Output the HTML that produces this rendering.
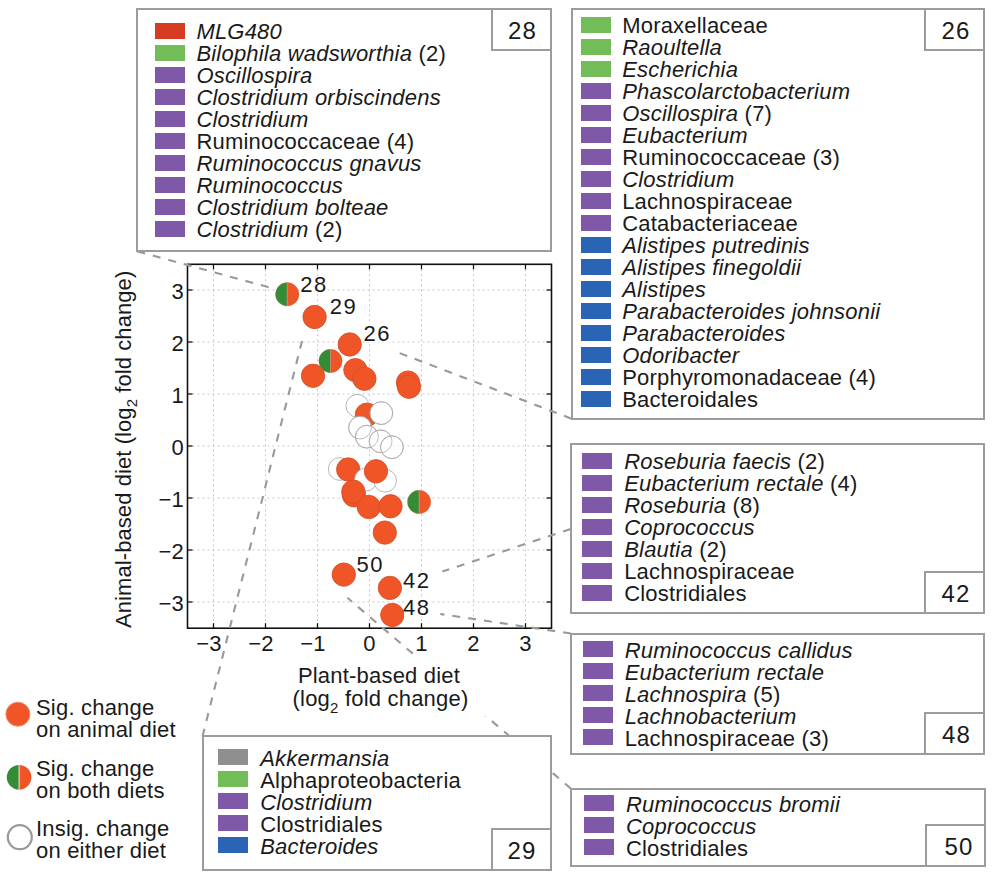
<!DOCTYPE html>
<html><head><meta charset="utf-8"><style>
html,body{margin:0;padding:0;background:#fff;}
body{width:995px;height:879px;position:relative;overflow:hidden;font-family:"Liberation Sans",sans-serif;color:#1a1a1a;}
.t{position:absolute;white-space:nowrap;font-size:22px;line-height:22px;letter-spacing:0.2px;}
.box{position:absolute;box-sizing:border-box;border:2px solid #9c9c9c;background:#fff;}
.sw{position:absolute;width:30px;height:16px;}
.num{position:absolute;box-sizing:border-box;border:2px solid #9c9c9c;background:#fff;font-size:24px;text-align:center;letter-spacing:1.2px;text-indent:1.2px;}
</style></head><body>

<svg width="995" height="879" style="position:absolute;left:0;top:0">
<g stroke="#c8c8c8" stroke-width="1" stroke-dasharray="2 3"><line x1="213.5" y1="264.3" x2="213.5" y2="628.2"/><line x1="187.5" y1="602" x2="551.5" y2="602"/><line x1="265.5" y1="264.3" x2="265.5" y2="628.2"/><line x1="187.5" y1="550" x2="551.5" y2="550"/><line x1="317.5" y1="264.3" x2="317.5" y2="628.2"/><line x1="187.5" y1="498" x2="551.5" y2="498"/><line x1="369.5" y1="264.3" x2="369.5" y2="628.2"/><line x1="187.5" y1="446" x2="551.5" y2="446"/><line x1="421.5" y1="264.3" x2="421.5" y2="628.2"/><line x1="187.5" y1="394" x2="551.5" y2="394"/><line x1="473.5" y1="264.3" x2="473.5" y2="628.2"/><line x1="187.5" y1="342" x2="551.5" y2="342"/><line x1="525.5" y1="264.3" x2="525.5" y2="628.2"/><line x1="187.5" y1="290" x2="551.5" y2="290"/></g>
<path d="M287.2,282.6 A11.7,11.7 0 0 0 287.2,306.0 Z" fill="#358c36"/><path d="M287.2,282.6 A11.7,11.7 0 0 1 287.2,306.0 Z" fill="#f05528"/><line x1="287.2" y1="282.6" x2="287.2" y2="306.0" stroke="#b8906a" stroke-width="0.9"/><circle cx="287.2" cy="294.3" r="11.7" fill="none" stroke="#c06040" stroke-width="0.6" opacity="0.6"/>
<circle cx="314.6" cy="317" r="11.7" fill="#f05528" stroke="#d44c2a" stroke-width="0.8"/>
<circle cx="349.7" cy="344.5" r="11.7" fill="#f05528" stroke="#d44c2a" stroke-width="0.8"/>
<path d="M330.5,349.3 A11.7,11.7 0 0 0 330.5,372.7 Z" fill="#358c36"/><path d="M330.5,349.3 A11.7,11.7 0 0 1 330.5,372.7 Z" fill="#f05528"/><line x1="330.5" y1="349.3" x2="330.5" y2="372.7" stroke="#b8906a" stroke-width="0.9"/><circle cx="330.5" cy="361" r="11.7" fill="none" stroke="#c06040" stroke-width="0.6" opacity="0.6"/>
<circle cx="313" cy="375.8" r="11.7" fill="#f05528" stroke="#d44c2a" stroke-width="0.8"/>
<circle cx="355.4" cy="370.1" r="11.7" fill="#f05528" stroke="#d44c2a" stroke-width="0.8"/>
<circle cx="364.4" cy="378.7" r="11.7" fill="#f05528" stroke="#d44c2a" stroke-width="0.8"/>
<circle cx="408" cy="382.6" r="11.7" fill="#f05528" stroke="#d44c2a" stroke-width="0.8"/>
<circle cx="409" cy="386.7" r="11.7" fill="#f05528" stroke="#d44c2a" stroke-width="0.8"/>
<circle cx="357.3" cy="405.8" r="11.399999999999999" fill="#fff" stroke="#a4a4a4" stroke-width="0.8"/>
<circle cx="366.9" cy="414.7" r="11.7" fill="#f05528" stroke="#d44c2a" stroke-width="0.8"/>
<circle cx="381.3" cy="413.1" r="11.399999999999999" fill="#fff" stroke="#a4a4a4" stroke-width="0.8"/>
<circle cx="360" cy="427.6" r="11.399999999999999" fill="#fff" stroke="#a4a4a4" stroke-width="0.8"/>
<circle cx="366.9" cy="436.7" r="11.399999999999999" fill="rgba(255,255,255,0.7)" stroke="#a4a4a4" stroke-width="0.8"/>
<circle cx="380.6" cy="441.3" r="11.399999999999999" fill="rgba(255,255,255,0.7)" stroke="#a4a4a4" stroke-width="0.8"/>
<circle cx="391.9" cy="447.2" r="11.399999999999999" fill="rgba(255,255,255,0.7)" stroke="#a4a4a4" stroke-width="0.8"/>
<circle cx="381.3" cy="413.1" r="11.399999999999999" fill="none" stroke="#a4a4a4" stroke-width="0.7" opacity="0.8"/>
<circle cx="360" cy="427.6" r="11.399999999999999" fill="none" stroke="#a4a4a4" stroke-width="0.7" opacity="0.8"/>
<circle cx="366.9" cy="436.7" r="11.399999999999999" fill="none" stroke="#a4a4a4" stroke-width="0.7" opacity="0.8"/>
<circle cx="380.6" cy="441.3" r="11.399999999999999" fill="none" stroke="#a4a4a4" stroke-width="0.7" opacity="0.8"/>
<circle cx="391.9" cy="447.2" r="11.399999999999999" fill="none" stroke="#a4a4a4" stroke-width="0.7" opacity="0.8"/>
<circle cx="339.8" cy="469" r="11.399999999999999" fill="rgba(255,255,255,0.7)" stroke="#a4a4a4" stroke-width="0.8"/>
<circle cx="348.2" cy="469.5" r="11.7" fill="#f05528" stroke="#d44c2a" stroke-width="0.8"/>
<circle cx="366" cy="479.5" r="11.399999999999999" fill="#fff" stroke="#a4a4a4" stroke-width="0.8"/>
<circle cx="385.1" cy="480.7" r="11.399999999999999" fill="rgba(255,255,255,0.7)" stroke="#a4a4a4" stroke-width="0.8"/>
<circle cx="376" cy="471.3" r="11.7" fill="#f05528" stroke="#d44c2a" stroke-width="0.8"/>
<circle cx="354" cy="495.3" r="11.7" fill="#f05528" stroke="#d44c2a" stroke-width="0.8"/>
<circle cx="353.3" cy="491.7" r="11.7" fill="#f05528" stroke="#d44c2a" stroke-width="0.8"/>
<circle cx="368.8" cy="507" r="11.7" fill="#f05528" stroke="#d44c2a" stroke-width="0.8"/>
<circle cx="390.5" cy="506.3" r="11.7" fill="#f05528" stroke="#d44c2a" stroke-width="0.8"/>
<path d="M419.1,490.2 A11.7,11.7 0 0 0 419.1,513.6 Z" fill="#358c36"/><path d="M419.1,490.2 A11.7,11.7 0 0 1 419.1,513.6 Z" fill="#f05528"/><line x1="419.1" y1="490.2" x2="419.1" y2="513.6" stroke="#b8906a" stroke-width="0.9"/><circle cx="419.1" cy="501.9" r="11.7" fill="none" stroke="#c06040" stroke-width="0.6" opacity="0.6"/>
<circle cx="384.8" cy="532.6" r="11.7" fill="#f05528" stroke="#d44c2a" stroke-width="0.8"/>
<circle cx="343.8" cy="574.6" r="11.7" fill="#f05528" stroke="#d44c2a" stroke-width="0.8"/>
<circle cx="389.9" cy="587.9" r="11.7" fill="#f05528" stroke="#d44c2a" stroke-width="0.8"/>
<circle cx="392.3" cy="615" r="11.7" fill="#f05528" stroke="#d44c2a" stroke-width="0.8"/>
<rect x="187.5" y="264.3" width="364.0" height="363.90000000000003" fill="none" stroke="#111" stroke-width="1.6"/>
<g stroke="#111" stroke-width="1.3"><line x1="213.5" y1="628.2" x2="213.5" y2="623.2"/><line x1="213.5" y1="264.3" x2="213.5" y2="269.3"/><line x1="187.5" y1="602" x2="192.5" y2="602"/><line x1="551.5" y1="602" x2="546.5" y2="602"/><line x1="265.5" y1="628.2" x2="265.5" y2="623.2"/><line x1="265.5" y1="264.3" x2="265.5" y2="269.3"/><line x1="187.5" y1="550" x2="192.5" y2="550"/><line x1="551.5" y1="550" x2="546.5" y2="550"/><line x1="317.5" y1="628.2" x2="317.5" y2="623.2"/><line x1="317.5" y1="264.3" x2="317.5" y2="269.3"/><line x1="187.5" y1="498" x2="192.5" y2="498"/><line x1="551.5" y1="498" x2="546.5" y2="498"/><line x1="369.5" y1="628.2" x2="369.5" y2="623.2"/><line x1="369.5" y1="264.3" x2="369.5" y2="269.3"/><line x1="187.5" y1="446" x2="192.5" y2="446"/><line x1="551.5" y1="446" x2="546.5" y2="446"/><line x1="421.5" y1="628.2" x2="421.5" y2="623.2"/><line x1="421.5" y1="264.3" x2="421.5" y2="269.3"/><line x1="187.5" y1="394" x2="192.5" y2="394"/><line x1="551.5" y1="394" x2="546.5" y2="394"/><line x1="473.5" y1="628.2" x2="473.5" y2="623.2"/><line x1="473.5" y1="264.3" x2="473.5" y2="269.3"/><line x1="187.5" y1="342" x2="192.5" y2="342"/><line x1="551.5" y1="342" x2="546.5" y2="342"/><line x1="525.5" y1="628.2" x2="525.5" y2="623.2"/><line x1="525.5" y1="264.3" x2="525.5" y2="269.3"/><line x1="187.5" y1="290" x2="192.5" y2="290"/><line x1="551.5" y1="290" x2="546.5" y2="290"/></g>
<g stroke="#999" stroke-width="2.1" stroke-dasharray="8 8" fill="none"><line x1="137.4" y1="251.4" x2="268.7" y2="287.2"/><line x1="571.6" y1="418.7" x2="398" y2="352.5"/><line x1="570.7" y1="529" x2="442.4" y2="571.5"/><line x1="571" y1="633.5" x2="440.3" y2="614"/><line x1="202.5" y1="736.4" x2="302" y2="341"/><line x1="571" y1="788.7" x2="347.4" y2="597.8"/></g>
</svg>
<div class="box" style="left:136.4px;top:8px;width:415.6px;height:244.4px"></div>
<div class="num" style="left:491px;top:8px;width:61px;height:43px;line-height:40.5px"><span style="position:relative;left:0.5px;top:0.5px">28</span></div>
<div class="sw" style="left:155px;top:22.5px;background:#d73c22"></div>
<div class="t" style="left:196.39999999999998px;top:21.0px"><i>MLG480</i></div>
<div class="sw" style="left:155px;top:44.5px;background:#72bd58"></div>
<div class="t" style="left:196.39999999999998px;top:43.0px"><i>Bilophila wadsworthia</i> (2)</div>
<div class="sw" style="left:155px;top:66.5px;background:#8058a8"></div>
<div class="t" style="left:196.39999999999998px;top:65.0px"><i>Oscillospira</i></div>
<div class="sw" style="left:155px;top:88.5px;background:#8058a8"></div>
<div class="t" style="left:196.39999999999998px;top:87.0px"><i>Clostridium orbiscindens</i></div>
<div class="sw" style="left:155px;top:110.5px;background:#8058a8"></div>
<div class="t" style="left:196.39999999999998px;top:109.0px"><i>Clostridium</i></div>
<div class="sw" style="left:155px;top:132.5px;background:#8058a8"></div>
<div class="t" style="left:196.39999999999998px;top:131.0px">Ruminococcaceae (4)</div>
<div class="sw" style="left:155px;top:154.5px;background:#8058a8"></div>
<div class="t" style="left:196.39999999999998px;top:153.0px"><i>Ruminococcus gnavus</i></div>
<div class="sw" style="left:155px;top:176.5px;background:#8058a8"></div>
<div class="t" style="left:196.39999999999998px;top:175.0px"><i>Ruminococcus</i></div>
<div class="sw" style="left:155px;top:198.5px;background:#8058a8"></div>
<div class="t" style="left:196.39999999999998px;top:197.0px"><i>Clostridium bolteae</i></div>
<div class="sw" style="left:155px;top:220.5px;background:#8058a8"></div>
<div class="t" style="left:196.39999999999998px;top:219.0px"><i>Clostridium</i> (2)</div>
<div class="box" style="left:570.6px;top:8px;width:414.4px;height:411.7px"></div>
<div class="num" style="left:924px;top:8px;width:61px;height:43px;line-height:40.5px"><span style="position:relative;left:1px;top:1px">26</span></div>
<div class="sw" style="left:581px;top:17px;background:#72bd58"></div>
<div class="t" style="left:622.2px;top:14.5px">Moraxellaceae</div>
<div class="sw" style="left:581px;top:39px;background:#72bd58"></div>
<div class="t" style="left:622.2px;top:36.5px"><i>Raoultella</i></div>
<div class="sw" style="left:581px;top:61px;background:#72bd58"></div>
<div class="t" style="left:622.2px;top:58.5px"><i>Escherichia</i></div>
<div class="sw" style="left:581px;top:83px;background:#8058a8"></div>
<div class="t" style="left:622.2px;top:80.5px"><i>Phascolarctobacterium</i></div>
<div class="sw" style="left:581px;top:105px;background:#8058a8"></div>
<div class="t" style="left:622.2px;top:102.5px"><i>Oscillospira</i> (7)</div>
<div class="sw" style="left:581px;top:127px;background:#8058a8"></div>
<div class="t" style="left:622.2px;top:124.5px"><i>Eubacterium</i></div>
<div class="sw" style="left:581px;top:149px;background:#8058a8"></div>
<div class="t" style="left:622.2px;top:146.5px">Ruminococcaceae (3)</div>
<div class="sw" style="left:581px;top:171px;background:#8058a8"></div>
<div class="t" style="left:622.2px;top:168.5px"><i>Clostridium</i></div>
<div class="sw" style="left:581px;top:193px;background:#8058a8"></div>
<div class="t" style="left:622.2px;top:190.5px">Lachnospiraceae</div>
<div class="sw" style="left:581px;top:215px;background:#8058a8"></div>
<div class="t" style="left:622.2px;top:212.5px">Catabacteriaceae</div>
<div class="sw" style="left:581px;top:237px;background:#2a64b4"></div>
<div class="t" style="left:622.2px;top:234.5px"><i>Alistipes putredinis</i></div>
<div class="sw" style="left:581px;top:259px;background:#2a64b4"></div>
<div class="t" style="left:622.2px;top:256.5px"><i>Alistipes finegoldii</i></div>
<div class="sw" style="left:581px;top:281px;background:#2a64b4"></div>
<div class="t" style="left:622.2px;top:278.5px"><i>Alistipes</i></div>
<div class="sw" style="left:581px;top:303px;background:#2a64b4"></div>
<div class="t" style="left:622.2px;top:300.5px"><i>Parabacteroides johnsonii</i></div>
<div class="sw" style="left:581px;top:325px;background:#2a64b4"></div>
<div class="t" style="left:622.2px;top:322.5px"><i>Parabacteroides</i></div>
<div class="sw" style="left:581px;top:347px;background:#2a64b4"></div>
<div class="t" style="left:622.2px;top:344.5px"><i>Odoribacter</i></div>
<div class="sw" style="left:581px;top:369px;background:#2a64b4"></div>
<div class="t" style="left:622.2px;top:366.5px">Porphyromonadaceae (4)</div>
<div class="sw" style="left:581px;top:391px;background:#2a64b4"></div>
<div class="t" style="left:622.2px;top:388.5px">Bacteroidales</div>
<div class="box" style="left:569.7px;top:442.7px;width:415.29999999999995px;height:171.50000000000006px"></div>
<div class="num" style="left:924px;top:571.2px;width:61px;height:43px;line-height:40.5px"><span style="position:relative;left:1px;top:0.5px">42</span></div>
<div class="sw" style="left:582px;top:453px;background:#8058a8"></div>
<div class="t" style="left:624.2px;top:450.5px"><i>Roseburia faecis</i> (2)</div>
<div class="sw" style="left:582px;top:475px;background:#8058a8"></div>
<div class="t" style="left:624.2px;top:472.5px"><i>Eubacterium rectale</i> (4)</div>
<div class="sw" style="left:582px;top:497px;background:#8058a8"></div>
<div class="t" style="left:624.2px;top:494.5px"><i>Roseburia</i> (8)</div>
<div class="sw" style="left:582px;top:519px;background:#8058a8"></div>
<div class="t" style="left:624.2px;top:516.5px"><i>Coprococcus</i></div>
<div class="sw" style="left:582px;top:541px;background:#8058a8"></div>
<div class="t" style="left:624.2px;top:538.5px"><i>Blautia</i> (2)</div>
<div class="sw" style="left:582px;top:563px;background:#8058a8"></div>
<div class="t" style="left:624.2px;top:560.5px">Lachnospiraceae</div>
<div class="sw" style="left:582px;top:585px;background:#8058a8"></div>
<div class="t" style="left:624.2px;top:582.5px">Clostridiales</div>
<div class="box" style="left:570px;top:632.5px;width:415px;height:122.5px"></div>
<div class="num" style="left:924px;top:712px;width:61px;height:43px;line-height:40.5px"><span style="position:relative;left:1.5px;top:0.5px">48</span></div>
<div class="sw" style="left:583px;top:641.1px;background:#8058a8"></div>
<div class="t" style="left:624.7px;top:639.6px"><i>Ruminococcus callidus</i></div>
<div class="sw" style="left:583px;top:663.1px;background:#8058a8"></div>
<div class="t" style="left:624.7px;top:661.6px"><i>Eubacterium rectale</i></div>
<div class="sw" style="left:583px;top:685.1px;background:#8058a8"></div>
<div class="t" style="left:624.7px;top:683.6px"><i>Lachnospira</i> (5)</div>
<div class="sw" style="left:583px;top:707.1px;background:#8058a8"></div>
<div class="t" style="left:624.7px;top:705.6px"><i>Lachnobacterium</i></div>
<div class="sw" style="left:583px;top:729.1px;background:#8058a8"></div>
<div class="t" style="left:624.7px;top:727.6px">Lachnospiraceae (3)</div>
<div class="box" style="left:570px;top:787.7px;width:416px;height:79.29999999999995px"></div>
<div class="num" style="left:925px;top:824px;width:61px;height:43px;line-height:40.5px"><span style="position:relative;left:3px;top:0.5px">50</span></div>
<div class="sw" style="left:584px;top:795px;background:#8058a8"></div>
<div class="t" style="left:625.9000000000001px;top:793.5px"><i>Ruminococcus bromii</i></div>
<div class="sw" style="left:584px;top:817px;background:#8058a8"></div>
<div class="t" style="left:625.9000000000001px;top:815.5px"><i>Coprococcus</i></div>
<div class="sw" style="left:584px;top:839px;background:#8058a8"></div>
<div class="t" style="left:625.9000000000001px;top:837.5px">Clostridiales</div>
<div class="box" style="left:201.5px;top:735.4px;width:350.5px;height:135.30000000000007px"></div>
<div class="num" style="left:491px;top:827.7px;width:61px;height:43px;line-height:40.5px"><span style="position:relative;left:0px;top:1.5px">29</span></div>
<div class="sw" style="left:218px;top:749.2px;background:#8f8f8f"></div>
<div class="t" style="left:260.2px;top:747.7px"><i>Akkermansia</i></div>
<div class="sw" style="left:218px;top:771.2px;background:#72bd58"></div>
<div class="t" style="left:260.2px;top:769.7px">Alphaproteobacteria</div>
<div class="sw" style="left:218px;top:793.2px;background:#8058a8"></div>
<div class="t" style="left:260.2px;top:791.7px"><i>Clostridium</i></div>
<div class="sw" style="left:218px;top:815.2px;background:#8058a8"></div>
<div class="t" style="left:260.2px;top:813.7px">Clostridiales</div>
<div class="sw" style="left:218px;top:837.2px;background:#2a64b4"></div>
<div class="t" style="left:260.2px;top:835.7px"><i>Bacteroides</i></div>
<div style="position:absolute;left:301.4px;top:276px;width:25px;height:17px;background:#fff"></div>
<div class="t" style="left:300.29999999999995px;top:273.7px;letter-spacing:1.5px">28</div>
<div style="position:absolute;left:330.9px;top:298.5px;width:25px;height:17px;background:#fff"></div>
<div class="t" style="left:329.79999999999995px;top:296.2px;letter-spacing:1.5px">29</div>
<div style="position:absolute;left:364.6px;top:325.4px;width:25px;height:17px;background:#fff"></div>
<div class="t" style="left:363.5px;top:323.09999999999997px;letter-spacing:1.5px">26</div>
<div style="position:absolute;left:357.7px;top:556.4px;width:25px;height:17px;background:#fff"></div>
<div class="t" style="left:356.59999999999997px;top:554.1px;letter-spacing:1.5px">50</div>
<div style="position:absolute;left:404.2px;top:572.1px;width:25px;height:17px;background:#fff"></div>
<div class="t" style="left:403.09999999999997px;top:569.8000000000001px;letter-spacing:1.5px">42</div>
<div style="position:absolute;left:404.2px;top:599.3px;width:25px;height:17px;background:#fff"></div>
<div class="t" style="left:403.09999999999997px;top:597.0px;letter-spacing:1.5px">48</div>
<div class="t" style="left:179.0px;width:60px;text-align:center;top:633.2px;font-size:22px">−3</div>
<div class="t" style="left:120px;width:64px;text-align:right;top:593.4px;font-size:22px">−3</div>
<div class="t" style="left:231.0px;width:60px;text-align:center;top:633.2px;font-size:22px">−2</div>
<div class="t" style="left:120px;width:64px;text-align:right;top:541.4px;font-size:22px">−2</div>
<div class="t" style="left:283.0px;width:60px;text-align:center;top:633.2px;font-size:22px">−1</div>
<div class="t" style="left:120px;width:64px;text-align:right;top:489.4px;font-size:22px">−1</div>
<div class="t" style="left:339.5px;width:60px;text-align:center;top:633.2px;font-size:22px">0</div>
<div class="t" style="left:120px;width:64px;text-align:right;top:437.4px;font-size:22px">0</div>
<div class="t" style="left:391.5px;width:60px;text-align:center;top:633.2px;font-size:22px">1</div>
<div class="t" style="left:120px;width:64px;text-align:right;top:385.4px;font-size:22px">1</div>
<div class="t" style="left:443.5px;width:60px;text-align:center;top:633.2px;font-size:22px">2</div>
<div class="t" style="left:120px;width:64px;text-align:right;top:333.4px;font-size:22px">2</div>
<div class="t" style="left:495.5px;width:60px;text-align:center;top:633.2px;font-size:22px">3</div>
<div class="t" style="left:120px;width:64px;text-align:right;top:281.4px;font-size:22px">3</div>
<div style="position:absolute;left:292px;top:658px;width:200px;height:58px;background:#fff"></div><div class="t" style="left:279px;top:663.5px;width:200px;text-align:center;line-height:23.8px">Plant-based diet<br><span style="position:relative;left:1.5px">(log<sub style="font-size:15px;line-height:0;vertical-align:-7px">2</sub> fold change)</span></div>
<div class="t" style="left:131.8px;top:627.6px;letter-spacing:0.08px;transform-origin:0 0;transform:rotate(-90deg);"><div style="position:relative;left:0;top:-18.6px">Animal-based diet (log<sub style="font-size:15px;line-height:0;vertical-align:-6px">2</sub> fold change)</div></div>
<svg width="60" height="879" style="position:absolute;left:0;top:0">
<circle cx="17.9" cy="714.2" r="12" fill="#f05528" stroke="#f08868" stroke-width="1"/>
<path d="M19.1,765 A12.2,12.2 0 0 0 19.1,789.6 Z" fill="#358c36"/>
<path d="M19.1,765 A12.2,12.2 0 0 1 19.1,789.6 Z" fill="#f05528"/>
<line x1="19.1" y1="765" x2="19.1" y2="789.6" stroke="#e8d0b8" stroke-width="1.2"/>
<circle cx="19.8" cy="837.2" r="12" fill="none" stroke="#999" stroke-width="2.2"/>
</svg>
<div class="t" style="left:36px;top:697.4px">Sig. change<br>on animal diet</div>
<div class="t" style="left:36px;top:757.9px">Sig. change<br>on both diets</div>
<div class="t" style="left:36px;top:817.6999999999999px">Insig. change<br>on either diet</div>
</body></html>
